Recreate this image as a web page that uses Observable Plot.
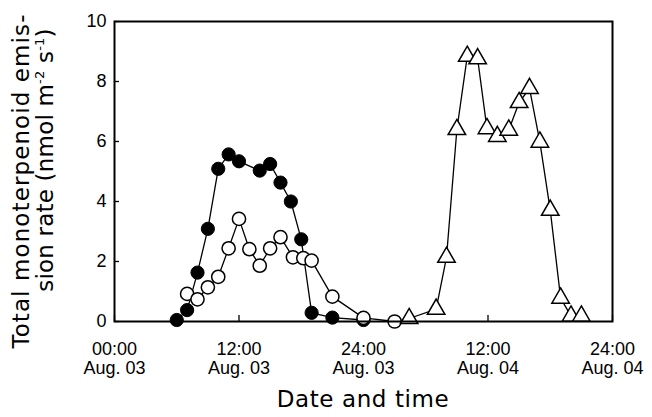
<!DOCTYPE html>
<html>
<head>
<meta charset="utf-8">
<script src="https://cdn.jsdelivr.net/npm/d3@7"></script>
<script src="https://cdn.jsdelivr.net/npm/@observablehq/plot@0.6"></script>
<style>
  html, body { margin: 0; padding: 0; background: #fff; }
  #chart svg { display: block; }
</style>
</head>
<body>
<div id="chart"></div>
<script>
// Hours since 00:00 Aug. 03, and emission rates (nmol m-2 s-1)
const filledHours  = [6, 7, 8, 9, 10, 11, 12, 14, 15, 16, 17, 18, 19, 21, 24];
const filledValues = [0.05, 0.38, 1.63, 3.09, 5.09, 5.57, 5.34, 5.03, 5.25, 4.63, 4.0, 2.74, 0.29, 0.13, 0.05];

const openHours  = [7, 8, 9, 10, 11, 12, 13, 14, 15, 16, 17.2, 18.2, 19, 21, 24, 27];
const openValues = [0.92, 0.74, 1.14, 1.49, 2.44, 3.42, 2.41, 1.86, 2.44, 2.81, 2.14, 2.11, 2.03, 0.83, 0.12, 0.0];

const triHours  = [28.4, 31, 32, 33, 34, 35, 35.9, 36.9, 38, 39, 40, 41, 42, 43, 44, 45];
const triValues = [0.1, 0.41, 2.14, 6.4, 8.84, 8.76, 6.43, 6.17, 6.38, 7.3, 7.77, 5.98, 3.71, 0.78, 0.18, 0.18];

const xTicks = [0, 12, 24, 36, 48];
const xTickLabels = ["00:00\nAug. 03", "12:00\nAug. 03", "24:00\nAug. 03", "12:00\nAug. 04", "24:00\nAug. 04"];
const yTicks = [0, 2, 4, 6, 8, 10];

const xTitle = "Date and time";
const yTitleLine1 = "Total monoterpenoid emis-";

const toRows = (hours, values) => hours.map((h, i) => ({hour: h, value: values[i]}));
const filled = toRows(filledHours, filledValues);
const open = toRows(openHours, openValues);
const tri = toRows(triHours, triValues);

const plot = Plot.plot({
  width: 652,
  height: 417,
  marginLeft: 114,
  marginRight: 40,
  marginTop: 21,
  marginBottom: 96,
  x: {domain: [0, 48]},
  y: {domain: [0, 10]},
  style: {fontFamily: "'Liberation Sans', Arial, sans-serif", fontSize: "18px", color: "#000", background: "#fff"},
  marks: [
    // inward tick marks
    Plot.axisX({ticks: xTicks, tickSize: 6, dy: -6, tickFormat: () => "", label: null, strokeWidth: 1.3}),
    Plot.axisY({ticks: yTicks, tickSize: 5, dx: 5, tickFormat: () => "", label: null, strokeWidth: 1.3}),
    // tick labels
    Plot.axisX({ticks: xTicks, tickSize: 0, tickPadding: 19, label: null, lineHeight: 1.1,
      tickFormat: d => xTickLabels[xTicks.indexOf(d)], fontSize: 18}),
    Plot.axisY({ticks: yTicks, tickSize: 0, tickPadding: 8, label: null, fontSize: 18}),
    // series
    Plot.line(filled, {x: "hour", y: "value", stroke: "#000", strokeWidth: 1.3}),
    Plot.dot(filled, {x: "hour", y: "value", r: 6.6, fill: "#000", stroke: "#000", strokeWidth: 1}),
    Plot.line(open, {x: "hour", y: "value", stroke: "#000", strokeWidth: 1.3}),
    Plot.dot(open, {x: "hour", y: "value", r: 6.6, fill: "#fff", stroke: "#000", strokeWidth: 1.5}),
    Plot.line(tri, {x: "hour", y: "value", stroke: "#000", strokeWidth: 1.3}),
    Plot.dot(tri, {x: "hour", y: "value", symbol: "triangle", r: 6.5, fill: "#fff", stroke: "#000", strokeWidth: 1.5}),
    Plot.frame({stroke: "#000", strokeWidth: 2})
  ]
});

const svg = d3.select(plot);
const titleFont = "'DejaVu Sans', sans-serif";

svg.append("text")
  .attr("x", 363).attr("y", 407)
  .attr("text-anchor", "middle")
  .attr("font-family", titleFont)
  .attr("font-size", 23)
  .attr("letter-spacing", 0.6)
  .attr("fill", "#000")
  .text(xTitle);

svg.append("text")
  .attr("transform", "translate(29,181) rotate(-90)")
  .attr("text-anchor", "middle")
  .attr("font-family", titleFont)
  .attr("font-size", 23)
  .attr("letter-spacing", 1.1)
  .attr("fill", "#000")
  .text(yTitleLine1);

const l2 = svg.append("text")
  .attr("transform", "translate(53,160) rotate(-90)")
  .attr("text-anchor", "middle")
  .attr("font-family", titleFont)
  .attr("font-size", 23)
  .attr("letter-spacing", 0.2)
  .attr("fill", "#000");
l2.append("tspan").text("sion rate (nmol m");
l2.append("tspan").attr("dy", -9).attr("font-size", 13).text("-2");
l2.append("tspan").attr("dy", 9).text(" s");
l2.append("tspan").attr("dy", -9).attr("font-size", 13).text("-1");
l2.append("tspan").attr("dy", 9).text(")");

document.getElementById("chart").appendChild(plot);
</script>
</body>
</html>
